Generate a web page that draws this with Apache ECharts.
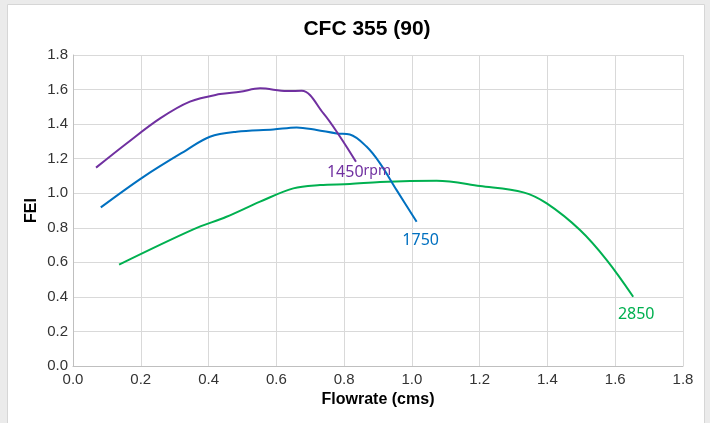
<!DOCTYPE html>
<html>
<head>
<meta charset="utf-8">
<script src="https://cdn.jsdelivr.net/npm/echarts@6/dist/echarts.min.js"></script>
<style>
  html, body { margin: 0; padding: 0; background: #ebebeb; }
  #chart { width: 710px; height: 423px; }
</style>
</head>
<body>
<div id="chart"></div>
<script>
// Fan curves: flowrate (cms) vs FEI at three speeds
const rpm1450 = [
  [0.068, 1.148], [0.158, 1.288], [0.257, 1.433], [0.345, 1.530], [0.434, 1.574],
  [0.493, 1.587], [0.552, 1.607], [0.631, 1.591], [0.675, 1.593], [0.739, 1.462],
  [0.788, 1.327], [0.835, 1.182]
];
const rpm1750 = [
  [0.082, 0.918], [0.208, 1.095], [0.335, 1.250], [0.404, 1.327], [0.483, 1.356],
  [0.591, 1.369], [0.660, 1.381], [0.719, 1.366], [0.778, 1.346], [0.817, 1.340],
  [0.866, 1.270], [0.906, 1.173], [0.955, 1.018], [1.014, 0.835]
];
const rpm2850 = [
  [0.136, 0.587], [0.355, 0.791], [0.453, 0.864], [0.552, 0.951], [0.650, 1.028],
  [0.729, 1.047], [0.817, 1.053], [0.906, 1.065], [1.073, 1.072], [1.201, 1.042],
  [1.329, 1.005], [1.398, 0.941], [1.496, 0.787], [1.575, 0.613], [1.653, 0.401]
];
const speedLabels = ['1450', '1750', '2850'];
const seriesColors = ['#7030A0', '#0070C0', '#00B050'];
const axisTicks = { min: 0, max: 1.8, interval: 0.2 };

const chart = echarts.init(document.getElementById('chart'), null, { renderer: 'canvas' });

// end-of-curve label placement (pixel offsets below the last point)
const labelOffsets = [[3, 2], [4, 11], [3, 10]];

const lineSeries = [rpm1450, rpm1750, rpm2850].map((d, i) => ({
  name: speedLabels[i],
  type: 'line',
  smooth: 0.35,
  showSymbol: false,
  symbol: 'none',
  z: 3 - i,
  data: d,
  lineStyle: { color: seriesColors[i], width: 2 },
  itemStyle: { color: seriesColors[i] },
  endLabel: {
    show: true,
    formatter: i === 0 ? '{n|' + speedLabels[i] + '}{u|rpm}' : speedLabels[i],
    color: seriesColors[i],
    fontFamily: 'Noto Sans',
    fontSize: 16,
    align: 'center',
    verticalAlign: 'top',
    distance: 0,
    offset: labelOffsets[i],
    rich: {
      n: { fontFamily: 'Noto Sans', fontSize: 16, color: seriesColors[i] },
      u: { fontFamily: 'Noto Sans', fontSize: 14, color: seriesColors[i], padding: [0, 0, 3, 0] }
    }
  },
  emphasis: { disabled: true }
}));

const tickLabel = { color: '#333333', fontFamily: 'Liberation Sans', fontSize: 15, formatter: v => v.toFixed(1) };
const gridLine = { show: true, lineStyle: { color: '#d9d9d9', width: 1 } };
const nameStyle = { fontFamily: 'Liberation Sans', fontWeight: 'bold', fontSize: 16, color: '#000' };

chart.setOption({
  animation: false,
  backgroundColor: '#ebebeb',
  graphic: [{
    type: 'rect',
    z: -10,
    shape: { x: 7.5, y: 4.5, width: 697, height: 430 },
    style: { fill: '#ffffff', stroke: '#d6d6d6', lineWidth: 1 }
  }],
  title: {
    text: 'CFC 355 (90)',
    left: 362,
    top: 14,
    textAlign: 'center',
    textStyle: { fontFamily: 'Liberation Sans', fontWeight: 'bold', fontSize: 21, color: '#000' }
  },
  grid: { left: 73, right: 27, top: 55, bottom: 57 },
  xAxis: {
    type: 'value',
    min: axisTicks.min, max: axisTicks.max, interval: axisTicks.interval,
    name: 'Flowrate (cms)',
    nameLocation: 'middle',
    nameGap: 22,
    nameTextStyle: nameStyle,
    axisLine: { show: true, lineStyle: { color: '#bfbfbf' } },
    axisTick: { show: false },
    axisLabel: Object.assign({ margin: 6 }, tickLabel),
    splitLine: gridLine
  },
  yAxis: {
    type: 'value',
    min: axisTicks.min, max: axisTicks.max, interval: axisTicks.interval,
    name: 'FEI',
    nameLocation: 'middle',
    nameGap: 33,
    nameMoveOverlap: false,
    nameRotate: 90,
    nameTextStyle: nameStyle,
    axisLine: { show: true, lineStyle: { color: '#bfbfbf' } },
    axisTick: { show: false },
    axisLabel: Object.assign({ margin: 5 }, tickLabel),
    splitLine: gridLine
  },
  series: lineSeries
});
</script>
</body>
</html>
